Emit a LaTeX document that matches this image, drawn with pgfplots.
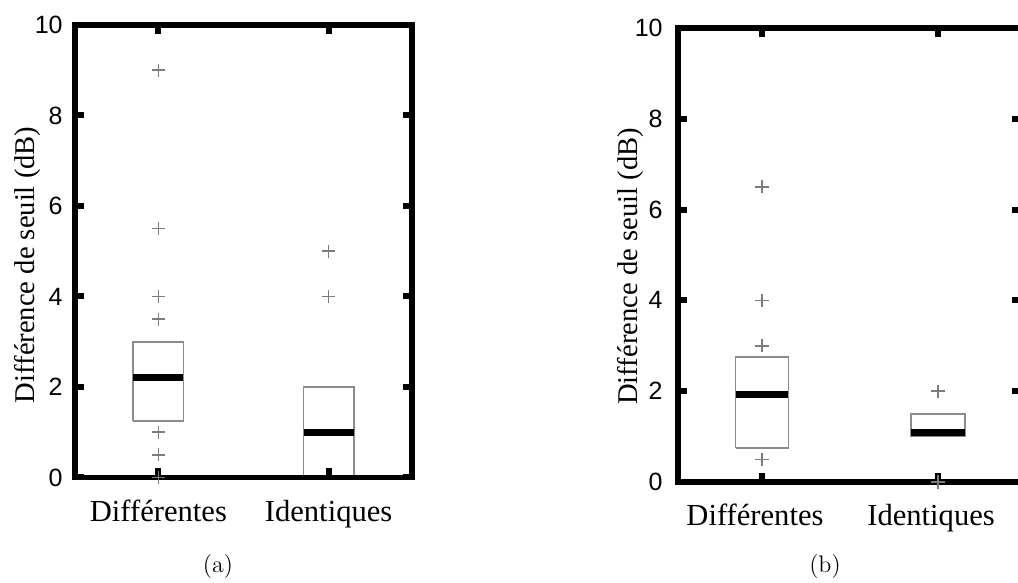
\documentclass[border=0pt]{standalone}
\usepackage{pgfplots}
\pgfplotsset{compat=1.18}
\usepackage{fontspec}
\newfontfamily\timesf{Liberation Serif}
\newfontfamily\helvf{Liberation Sans}
\definecolor{boxgray}{RGB}{140,140,140}
\definecolor{outgray}{RGB}{125,125,125}
\tikzset{framest/.style={line width=2.6pt, black, line join=miter}}
\begin{document}
\begin{tikzpicture}
\useasboundingbox (0,0) rectangle (509pt,291.5pt);
\pgfplotsset{
  mystyle/.style={
    scale only axis, clip=false,
    ymin=0, ymax=10, ytick={0,2,...,10},
    xtick={1,2}, xticklabels={Différentes,Identiques},
    axis line style={draw=none},
    tick style={line width=3pt, black},
    major tick length=4.5pt,
    tick align=inside,
    /pgf/number format/assume math mode=true,
    yticklabel style={font=\helvf\fontsize{12.5}{14}\selectfont, inner sep=0pt, anchor=east},
    xticklabel style={font=\timesf\fontsize{15.3}{18}\selectfont, inner sep=0pt, anchor=north, yshift=-11pt},
    ylabel={Différence de seuil (dB)},
    ylabel style={font=\timesf\fontsize{14.3}{17}\selectfont, anchor=center},
  },
  boxst/.style={draw=boxgray, line width=0.9pt, mark=none},
  medst/.style={draw=black, line width=3.5pt, mark=none},
  outst/.style={only marks, mark=+, mark size=3.3pt, color=outgray, mark options={line width=0.75pt}},
}
% ---------- panel (a) ----------
\begin{axis}[mystyle, at={(37.5pt,52.75pt)}, anchor=south west,
  width=168.5pt, height=226.25pt, xmin=0.51, xmax=2.49,
  yticklabel style={xshift=-6pt},
  ylabel style={at={(rel axis cs:-0.14,0.47)}}]
  \addplot[boxst] coordinates {(0.853,1.25) (1.147,1.25) (1.147,3) (0.853,3) (0.853,1.25)};
  \addplot[medst] coordinates {(0.853,2.2) (1.147,2.2)};
  \addplot[outst] coordinates {(1,9) (1,5.5) (1,4) (1,3.5) (1,1) (1,0.5)};
  \addplot[boxst] coordinates {(1.853,0) (2.147,0) (2.147,2) (1.853,2) (1.853,0)};
  \addplot[medst] coordinates {(1.853,1) (2.147,1)};
  \addplot[outst] coordinates {(2,5) (2,4)};
  \draw[framest] (rel axis cs:0,0) -- (rel axis cs:1,0) -- (rel axis cs:1,1) -- (rel axis cs:0,1) -- cycle;
  \addplot[outst] coordinates {(1,0)};
\end{axis}
% ---------- panel (b) ----------
\begin{axis}[mystyle, at={(339pt,50.5pt)}, anchor=south west,
  width=171.4pt, height=227pt, xmin=0.523, xmax=2.47,
  yticklabel style={xshift=-7.5pt},
  xticklabel style={xshift=-3.5pt},
  ylabel style={at={(rel axis cs:-0.14,0.475)}}]
  \addplot[boxst] coordinates {(0.85,0.75) (1.15,0.75) (1.15,2.75) (0.85,2.75) (0.85,0.75)};
  \addplot[medst] coordinates {(0.85,1.93) (1.15,1.93)};
  \addplot[outst] coordinates {(1,6.5) (1,4) (1,3) (1,0.5)};
  \addplot[boxst] coordinates {(1.847,1) (2.153,1) (2.153,1.5) (1.847,1.5) (1.847,1)};
  \addplot[medst] coordinates {(1.847,1.08) (2.153,1.08)};
  \addplot[outst] coordinates {(2,2)};
  \draw[framest] (rel axis cs:0,0) -- (rel axis cs:1,0) -- (rel axis cs:1,1) -- (rel axis cs:0,1) -- cycle;
  \addplot[outst] coordinates {(2,0)};
\end{axis}
\node[font=\fontsize{12}{14}\selectfont, anchor=base] at (109pt,5.25pt) {(a)};
\node[font=\fontsize{12}{14}\selectfont, anchor=base] at (412.5pt,5.25pt) {(b)};
\end{tikzpicture}
\end{document}
